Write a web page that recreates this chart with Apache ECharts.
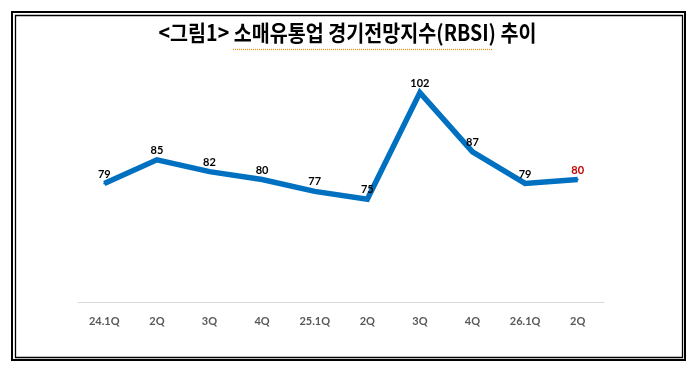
<!DOCTYPE html>
<html>
<head>
<meta charset="utf-8">
<script src="https://cdn.jsdelivr.net/npm/echarts@6/dist/echarts.min.js"></script>
<style>
html,body{margin:0;padding:0;background:#fff;}
#c{width:700px;height:382px;}
</style>
</head>
<body>
<div id="c"></div>
<script>
var titleText = '<그림1> 소매유통업 경기전망지수(RBSI) 추이';
var categories = ['24.1Q','2Q','3Q','4Q','25.1Q','2Q','3Q','4Q','26.1Q','2Q'];
var values = [79, 85, 82, 80, 77, 75, 102, 87, 79, 80];
var highlightIndex = 9;

var chart = echarts.init(document.getElementById('c'), null, {renderer:'canvas'});
var seriesData = values.map(function(v, i){
  if (i === highlightIndex) {
    return {value: v, label: {color: '#C00000'}};
  }
  return v;
});
chart.setOption({
  backgroundColor: '#ffffff',
  animation: false,
  grid: {left: 78, width: 526, top: 61, height: 241},
  xAxis: {
    type: 'category',
    data: categories,
    boundaryGap: true,
    axisLine: {show: true, lineStyle: {color: '#D9D9D9', width: 1}},
    axisTick: {show: false},
    axisLabel: {color: '#595959', fontFamily: 'Lato', fontWeight: 'bold', fontSize: 11, margin: 14}
  },
  yAxis: {
    type: 'value', min: 49, max: 110,
    show: false,
    splitLine: {show: false}
  },
  series: [{
    type: 'line',
    data: seriesData,
    symbol: 'circle',
    symbolSize: 2,
    lineStyle: {color: '#0070C0', width: 5.5, join: 'miter'},
    itemStyle: {color: '#0070C0'},
    label: {show: true, position: 'top', distance: 3, color: '#000000', fontFamily: 'Lato', fontWeight: 'bold', fontSize: 11}
  }],
  graphic: [
    {type: 'rect', shape: {x: 12, y: 12, width: 673, height: 348}, style: {fill: null, stroke: '#000', lineWidth: 2}, silent: true},
    {type: 'rect', shape: {x: 15.5, y: 15.5, width: 667, height: 342}, style: {fill: null, stroke: '#000', lineWidth: 1.3}, silent: true},
    {type: 'text', x: 347.5, y: 33, scaleX: 0.89, originX: 0, style: {text: titleText, fontFamily: 'Noto Sans CJK KR', fontWeight: 'bold', fontSize: 22, fill: '#000', textAlign: 'center', textVerticalAlign: 'middle'}, silent: true},
    {type: 'line', shape: {x1: 233, y1: 49.5, x2: 493, y2: 49.5}, style: {stroke: '#F08C00', lineWidth: 1.2, lineDash: [1, 1]}, silent: true}
  ]
});
</script>
</body>
</html>
